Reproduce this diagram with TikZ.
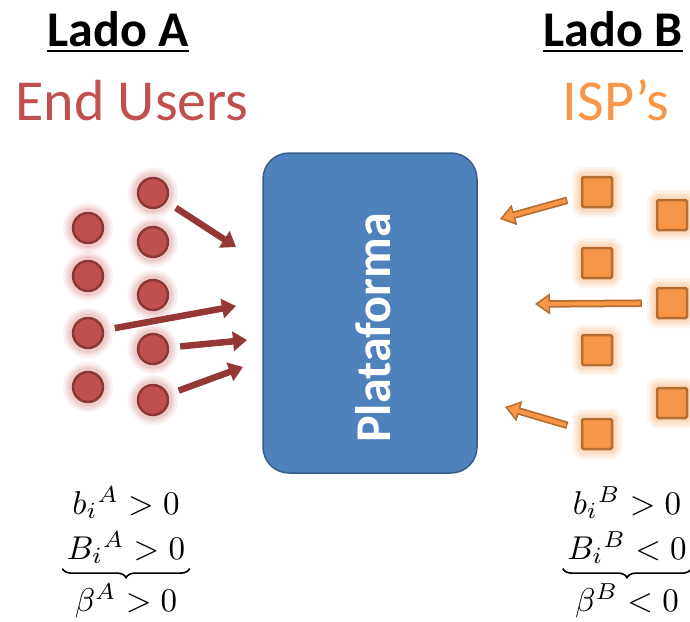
\documentclass[tikz,border=0pt]{standalone}
\usepackage{amsmath}
\usepackage{fontspec}
\newfontfamily\carlito{Carlito}
\usetikzlibrary{arrows.meta,positioning,decorations.pathreplacing}
\definecolor{userfill}{HTML}{C0504D}
\definecolor{userborder}{HTML}{8C3836}
\definecolor{userglow}{HTML}{E6B9B8}
\definecolor{userarrow}{HTML}{953735}
\definecolor{ispfill}{HTML}{F79646}
\definecolor{ispborder}{HTML}{B66D31}
\definecolor{ispglow}{HTML}{FBD4B4}
\definecolor{platfill}{HTML}{4F81BD}
\definecolor{platborder}{HTML}{385D8A}
\begin{document}
\begin{tikzpicture}[x=1pt, y=-1pt,
  user/.style={circle, minimum size=30pt, inner sep=0pt, fill=userfill, draw=userborder, line width=2.5pt,
    preaction={draw=userglow, line width=20pt, draw opacity=.2},
    preaction={draw=userglow, line width=15pt, draw opacity=.3},
    preaction={draw=userglow, line width=10pt, draw opacity=.5}},
  isp/.style={rectangle, minimum size=30pt, inner sep=0pt, rounded corners=1.5pt, fill=ispfill, draw=ispborder, line width=2.5pt,
    preaction={draw=ispglow, line width=20pt, draw opacity=.25},
    preaction={draw=ispglow, line width=15pt, draw opacity=.35},
    preaction={draw=ispglow, line width=10pt, draw opacity=.6}},
  userlink/.style={draw=userarrow, line width=6.5pt, shorten <=11pt, -{Triangle[width=19pt,length=14pt]}},
  isplink/.style={draw=ispborder, line width=7.5pt, shorten <=14pt, -{Triangle[width=21pt,length=15pt,fill=ispfill,line width=1.5pt]},
    postaction={draw=ispfill, line width=4pt, -, shorten <=15.5pt, shorten >=12pt}},
  side/.style={font=\carlito\bfseries\fontsize{50}{60}\selectfont, inner sep=0pt, anchor=base},
  group/.style={font=\carlito\fontsize{58}{68}\selectfont, inner sep=0pt, anchor=base},
  cond/.style={scale=3.3, inner sep=0pt, anchor=base},
  sumbrace/.style={decorate, decoration={brace, amplitude=9pt}, line width=1.6pt}]
  \useasboundingbox (0, 0) rectangle (690, 621);
  \node [side] (ladoA) at (118, 46) {Lado A};
  \node [side] (ladoB) at (613, 46) {Lado B};
  \draw [line width=2.5pt] ([yshift=-5pt]ladoA.base west) -- ([yshift=-5pt]ladoA.base east);
  \draw [line width=2.5pt] ([yshift=-5pt]ladoB.base west) -- ([yshift=-5pt]ladoB.base east);
  \node [group, text=userfill] (users) at (132, 120) {End Users};
  \node [group, text=ispfill] (isps) at (616, 120) {ISP’s};
  \node [minimum width=214pt, minimum height=320pt, rounded corners=26pt, fill=platfill, draw=platborder,
    line width=1.5pt] (plat) at (370, 313) {};
  \node [rotate=90, text=white, font=\carlito\bfseries\fontsize{50}{60}\selectfont] (platlbl)
    at ([shift={(3, 15)}]plat.center) {Plataforma};
  \foreach \y [count=\i] in {228, 276, 333, 387} \node [user] (ua\i) at (88, \y) {};
  \foreach \y [count=\i] in {193, 242, 295, 349, 400} \node [user] (ub\i) at (153, \y) {};
  \foreach \y [count=\i] in {192, 263, 350, 434} \node [isp] (sa\i) at (597, \y) {};
  \foreach \y [count=\i] in {215, 303, 403} \node [isp] (sb\i) at (672, \y) {};
  \coordinate (ua-end1) at (236, 247);
  \coordinate (ua-end2) at (236, 306);
  \coordinate (ua-end3) at (247, 340);
  \coordinate (ua-end4) at (243, 367);
  \draw [userlink] (ub1) -- (ua-end1);
  \draw [userlink] (ua3) -- (ua-end2);
  \draw [userlink] (ub4) -- (ua-end3);
  \draw [userlink] (ub5) -- (ua-end4);
  \coordinate (isp-end1) at (500, 219);
  \coordinate (isp-end2) at (535, 304);
  \coordinate (isp-end3) at (505, 407);
  \draw [isplink] (sa1) -- (isp-end1);
  \draw [isplink] (sb2) -- (isp-end2);
  \draw [isplink] (sa4) -- (isp-end3);
  \node [cond] (bA) at (126, 514) {$b_i{}^{A} > 0$};
  \node [cond] (BA) at (126, 559) {$B_i{}^{A} > 0$};
  \node [cond] (betaA) at (126, 611) {$\beta^{A} > 0$};
  \node [cond] (bB) at (627, 514) {$b_i{}^{B} > 0$};
  \node [cond] (BB) at (627, 559) {$B_i{}^{B} < 0$};
  \node [cond] (betaB) at (627, 611) {$\beta^{B} < 0$};
  \draw [sumbrace] ([shift={(4, 4)}]BA.south east) -- ([shift={(-4, 4)}]BA.south west);
  \draw [sumbrace] ([shift={(4, 4)}]BB.south east) -- ([shift={(-4, 4)}]BB.south west);
\end{tikzpicture}
\end{document}
